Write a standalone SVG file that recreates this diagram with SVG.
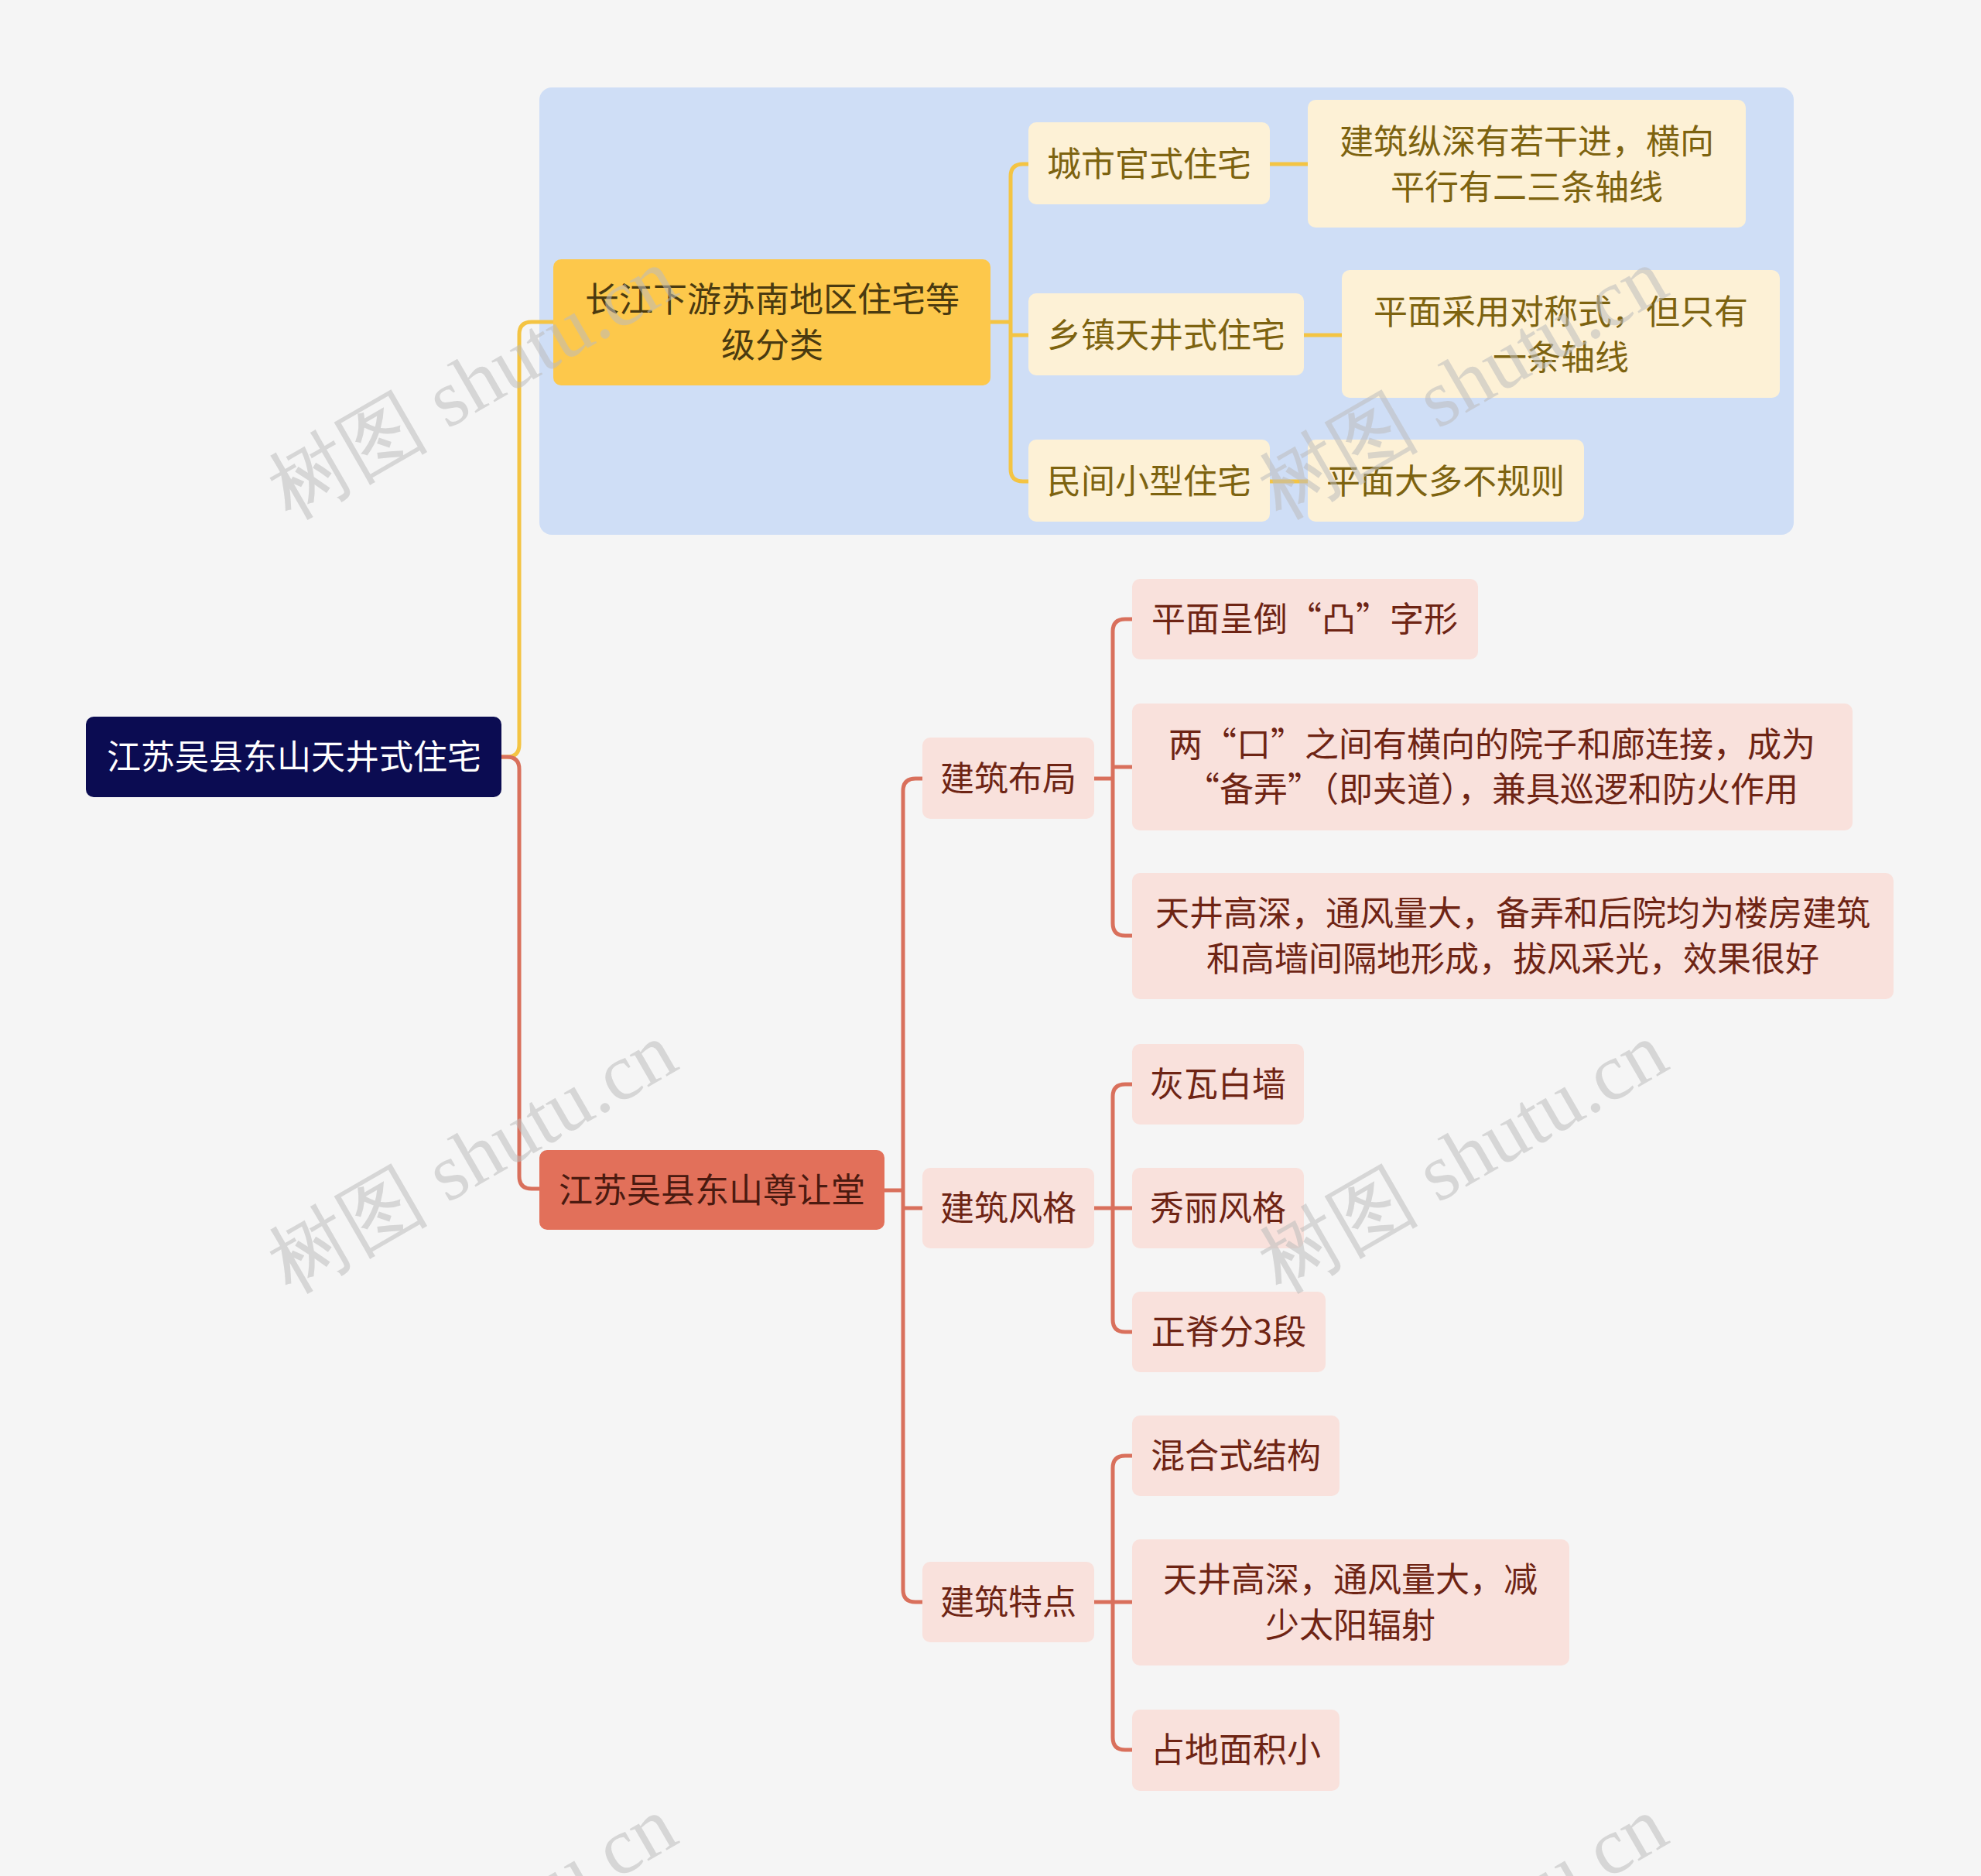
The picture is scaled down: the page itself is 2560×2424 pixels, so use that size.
<svg xmlns="http://www.w3.org/2000/svg" width="2560" height="2424" viewBox="0 0 2560 2424">
<style>
text{font-family:"Noto Sans CJK SC","Noto Sans",sans-serif;font-size:44px;text-anchor:middle;dominant-baseline:central}
.y{fill:#fdf1d6}.yt{fill:#7d6310}
.r{fill:#f9e1dc}.rt{fill:#6e2414}
.cy{fill:none;stroke:#f4c443;stroke-width:5}
.cr{fill:none;stroke:#d9705c;stroke-width:5}
.wm{font-family:"Liberation Serif",serif;font-size:104px;fill:#bdbdbd;opacity:0.55}
</style>
<rect width="2560" height="2424" fill="#f5f5f5"/>
<rect x="697" y="113" width="1621" height="578" rx="16" fill="#cfdef6"/>
<g id="connectors">
<path class="cy" d="M648,978 H655 Q671,978 671,962 V432 Q671,416 687,416 H715"/>
<path class="cr" d="M648,978 H655 Q671,978 671,994 V1520 Q671,1536 687,1536 H697"/>
<path class="cy" d="M1280,416 H1306 M1306,416 V228 Q1306,212 1322,212 H1329 M1306,416 V433 H1329 M1306,416 V606 Q1306,622 1322,622 H1329"/>
<path class="cy" d="M1641,212 H1690 M1685,433 H1734 M1641,622 H1690"/>
<path class="cr" d="M1143,1538 H1167 M1167,1538 V1022 Q1167,1006 1183,1006 H1192 M1167,1538 V1561 H1192 M1167,1538 V2054 Q1167,2070 1183,2070 H1192"/>
<path class="cr" d="M1414,1006 H1438 M1438,1006 V816 Q1438,800 1454,800 H1463 M1438,1006 V991 H1463 M1438,1006 V1193 Q1438,1209 1454,1209 H1463"/>
<path class="cr" d="M1414,1561 H1463 M1438,1561 V1417 Q1438,1401 1454,1401 H1463 M1438,1561 V1705 Q1438,1721 1454,1721 H1463"/>
<path class="cr" d="M1414,2070 H1463 M1438,2070 V1897 Q1438,1881 1454,1881 H1463 M1438,2070 V2245 Q1438,2261 1454,2261 H1463"/>
</g>
<g transform="translate(0,-3)">
<g id="root"><rect x="111" y="929" width="537" height="104" rx="10" fill="#0b0c52"/><text x="380" y="978" fill="#fff">江苏吴县东山天井式住宅</text></g>
</g>
<g id="n1"><rect x="715" y="335" width="565" height="163" rx="10" fill="#fdc84b"/><text x="998" y="384" fill="#4a3a10">长江下游苏南地区住宅等</text><text x="998" y="443" fill="#4a3a10">级分类</text></g>
<g id="n11"><rect class="y" x="1329" y="158" width="312" height="106" rx="10"/><text class="yt" x="1485" y="209">城市官式住宅</text></g>
<g id="n111"><rect class="y" x="1690" y="129" width="566" height="165" rx="10"/><text class="yt" x="1973" y="180">建筑纵深有若干进，横向</text><text class="yt" x="1973" y="239">平行有二三条轴线</text></g>
<g id="n12"><rect class="y" x="1329" y="379" width="356" height="106" rx="10"/><text class="yt" x="1507" y="430">乡镇天井式住宅</text></g>
<g id="n121"><rect class="y" x="1734" y="349" width="566" height="165" rx="10"/><text class="yt" x="2017" y="400">平面采用对称式，但只有</text><text class="yt" x="2017" y="459">一条轴线</text></g>
<g id="n13"><rect class="y" x="1329" y="568" width="312" height="106" rx="10"/><text class="yt" x="1485" y="619">民间小型住宅</text></g>
<g id="n131"><rect class="y" x="1690" y="568" width="357" height="106" rx="10"/><text class="yt" x="1868" y="619">平面大多不规则</text></g>
<g id="n2"><rect x="697" y="1486" width="446" height="103" rx="10" fill="#e2705a"/><text x="920" y="1535" fill="#4a1a10">江苏吴县东山尊让堂</text></g>
<g id="n21"><rect class="r" x="1192" y="953" width="222" height="105" rx="10"/><text class="rt" x="1303" y="1003">建筑布局</text></g>
<g id="n22"><rect class="r" x="1192" y="1509" width="222" height="104" rx="10"/><text class="rt" x="1303" y="1558">建筑风格</text></g>
<g id="n23"><rect class="r" x="1192" y="2018" width="222" height="104" rx="10"/><text class="rt" x="1303" y="2067">建筑特点</text></g>
<g id="n211"><rect class="r" x="1463" y="748" width="447" height="104" rx="10"/><text class="rt" x="1686" y="797">平面呈倒“凸”字形</text></g>
<g id="n212"><rect class="r" x="1463" y="909" width="931" height="164" rx="10"/><text class="rt" x="1928" y="959">两“口”之间有横向的院子和廊连接，成为</text><text class="rt" x="1928" y="1017">“备弄”（即夹道），兼具巡逻和防火作用</text></g>
<g id="n213"><rect class="r" x="1463" y="1128" width="984" height="163" rx="10"/><text class="rt" x="1955" y="1177">天井高深，通风量大，备弄和后院均为楼房建筑</text><text class="rt" x="1955" y="1236">和高墙间隔地形成，拔风采光，效果很好</text></g>
<g id="n221"><rect class="r" x="1463" y="1349" width="222" height="104" rx="10"/><text class="rt" x="1574" y="1398">灰瓦白墙</text></g>
<g id="n222"><rect class="r" x="1463" y="1509" width="222" height="104" rx="10"/><text class="rt" x="1574" y="1558">秀丽风格</text></g>
<g id="n223"><rect class="r" x="1463" y="1669" width="250" height="104" rx="10"/><text class="rt" x="1588" y="1718">正脊分3段</text></g>
<g id="n231"><rect class="r" x="1463" y="1829" width="268" height="104" rx="10"/><text class="rt" x="1597" y="1878">混合式结构</text></g>
<g id="n232"><rect class="r" x="1463" y="1989" width="565" height="163" rx="10"/><text class="rt" x="1745" y="2038">天井高深，通风量大，减</text><text class="rt" x="1745" y="2097">少太阳辐射</text></g>
<g id="n233"><rect class="r" x="1463" y="2209" width="268" height="105" rx="10"/><text class="rt" x="1597" y="2258">占地面积小</text></g>
<g id="watermarks">
<text class="wm" transform="translate(610,495) rotate(-30)">树图 shutu.cn</text>
<text class="wm" transform="translate(1890,495) rotate(-30)">树图 shutu.cn</text>
<text class="wm" transform="translate(610,1495) rotate(-30)">树图 shutu.cn</text>
<text class="wm" transform="translate(1890,1495) rotate(-30)">树图 shutu.cn</text>
<text class="wm" transform="translate(610,2495) rotate(-30)">树图 shutu.cn</text>
<text class="wm" transform="translate(1890,2495) rotate(-30)">树图 shutu.cn</text>
</g>
</svg>
